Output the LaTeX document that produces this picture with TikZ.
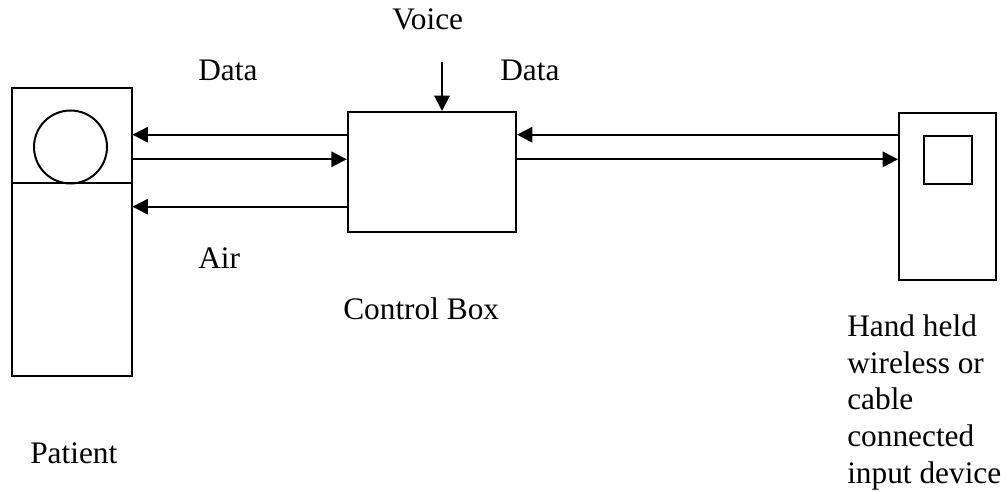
\documentclass[tikz,border=0pt]{standalone}
\usepackage{fontspec}
\setmainfont{Liberation Serif}
\usetikzlibrary{arrows.meta}
\tikzset{
	box/.style={draw, line width=1.5pt, inner sep=0pt, anchor=north west},
	arr/.style={line width=1.5pt, -{Triangle[length=11.5pt, width=11.5pt]}},
	lbl/.style={inner sep=0pt, anchor=base west, font=\fontsize{23.5}{27.4}\selectfont}
}

\begin{document}
\begin{tikzpicture}[x=0.75pt, y=-0.75pt]
		\useasboundingbox (0,0) rectangle (1006,492);
		
		\node[box, minimum width=119.5*0.75pt, minimum height=287.5*0.75pt] (patient) at (11,87) {};
		\node[draw, circle, line width=1.5pt, inner sep=0pt, minimum size=73*0.75pt] (head) at (70.5,147) {};
		\coordinate (cut) at (0,182.7);
		\draw[line width=1.5pt] (patient.west |- cut) -- (patient.east |- cut);
		
		\node[box, minimum width=168.3*0.75pt, minimum height=120*0.75pt] (ctrl) at (346.7,111) {};
		\node[box, minimum width=97*0.75pt, minimum height=167.5*0.75pt] (hand) at (898,111.5) {};
		\node[box, minimum width=48.3*0.75pt, minimum height=48*0.75pt] (screen) at (922.7,134.7) {};
		
		\coordinate (d1) at (0,134.7);
		\coordinate (d2) at (0,159.3);
		\coordinate (a1) at (0,206.7);
		\coordinate (mic) at (442,62.5);
		
		\draw[arr] (ctrl.west |- d1) -- (patient.east |- d1);
		\draw[arr] (patient.east |- d2) -- (ctrl.west |- d2);
		\draw[arr] (ctrl.west |- a1) -- (patient.east |- a1);
		\draw[arr] (hand.west |- d1) -- (ctrl.east |- d1);
		\draw[arr] (ctrl.east |- d2) -- (hand.west |- d2);
		\draw[arr] (mic) -- (mic |- ctrl.north);
		
		\node[lbl] (voice) at (392,30) {Voice};
		\node[lbl] (datal) at (198,80) {Data};
		\node[lbl] (datar) at (500,80) {Data};
		\node[lbl] (air) at (198,268) {Air};
		\node[lbl] (ctrltxt) at (343,319) {Control Box};
		\node[lbl] (pattxt) at (30,463) {Patient};
		% base of a multi-line node sits on its last line
		\node[lbl, align=left] (handtxt) at (847,483) {Hand held\\wireless or\\cable\\connected\\input device};
\end{tikzpicture}
\end{document}
